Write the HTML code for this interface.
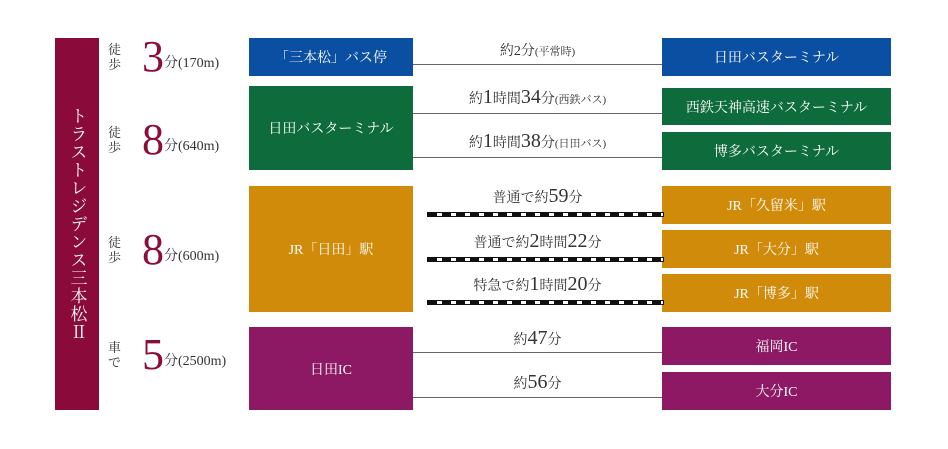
<!DOCTYPE html>
<html><head><meta charset="utf-8"><style>
body{margin:0;width:948px;height:449px;background:#fff;position:relative;overflow:hidden;font-family:"Liberation Serif","Noto Serif CJK SC",serif;}
.b{position:absolute;color:#fff;display:flex;align-items:center;justify-content:center;font-size:14px;}
.l{position:absolute;height:1px;background:#666;left:413px;width:249px;}
.r{position:absolute;left:427px;width:235px;height:3px;border:1px solid #111;background:repeating-linear-gradient(90deg,#111 0 9px,#fff 9px 14px);}
.t{position:absolute;left:413px;width:249px;text-align:center;color:#333;font-size:14px;}
.t b{font-weight:normal;font-size:20px;}
.t s{text-decoration:none;font-size:11px;}
.lab{position:absolute;left:108px;color:#333;display:flex;align-items:center;}
.lab .v{width:14px;font-size:13px;line-height:15px;}
.lab .n{font-size:44px;color:#8b0e3a;margin-left:20px;line-height:44px;}
.lab .u{font-size:14px;margin-top:10px;}
.blue{background:#0b4fa2}.green{background:#0e6b3b}.or{background:#d18b0b}.pu{background:#8d1964}
</style></head><body>
<div class="b" style="left:55px;top:38px;width:44px;height:372px;background:#8a0b3a;writing-mode:vertical-rl;font-size:17px;letter-spacing:1px;">トラストレジデンス三本松Ⅱ</div>

<div class="lab" style="top:35px"><div class="v">徒歩</div><div class="n">3</div><div class="u">分(170m)</div></div>
<div class="lab" style="top:118px"><div class="v">徒歩</div><div class="n">8</div><div class="u">分(640m)</div></div>
<div class="lab" style="top:228px"><div class="v">徒歩</div><div class="n">8</div><div class="u">分(600m)</div></div>
<div class="lab" style="top:333px"><div class="v">車で</div><div class="n">5</div><div class="u">分(2500m)</div></div>

<div class="b blue" style="left:249px;top:38px;width:164px;height:38px">「三本松」バス停</div>
<div class="b green" style="left:249px;top:86px;width:164px;height:84px">日田バスターミナル</div>
<div class="b or" style="left:249px;top:186px;width:164px;height:126px">JR「日田」駅</div>
<div class="b pu" style="left:249px;top:327px;width:164px;height:83px">日田IC</div>

<div class="b blue" style="left:662px;top:38px;width:229px;height:38px">日田バスターミナル</div>
<div class="b green" style="left:662px;top:88px;width:229px;height:37px">西鉄天神高速バスターミナル</div>
<div class="b green" style="left:662px;top:132px;width:229px;height:38px">博多バスターミナル</div>
<div class="b or" style="left:662px;top:186px;width:229px;height:38px">JR「久留米」駅</div>
<div class="b or" style="left:662px;top:230px;width:229px;height:38px">JR「大分」駅</div>
<div class="b or" style="left:662px;top:274px;width:229px;height:38px">JR「博多」駅</div>
<div class="b pu" style="left:662px;top:327px;width:229px;height:38px">福岡IC</div>
<div class="b pu" style="left:662px;top:372px;width:229px;height:38px">大分IC</div>

<div class="l" style="top:64px"></div>
<div class="l" style="top:113px"></div>
<div class="l" style="top:157px"></div>
<div class="r" style="top:212px"></div>
<div class="r" style="top:257px"></div>
<div class="r" style="top:300px"></div>
<div class="l" style="top:352px"></div>
<div class="l" style="top:397px"></div>

<div class="t" style="top:40px">約2分<s>(平常時)</s></div>
<div class="t" style="top:86px">約<b>1</b>時間<b>34</b>分<s>(西鉄バス)</s></div>
<div class="t" style="top:130px">約<b>1</b>時間<b>38</b>分<s>(日田バス)</s></div>
<div class="t" style="top:185px">普通で約<b>59</b>分</div>
<div class="t" style="top:230px">普通で約<b>2</b>時間<b>22</b>分</div>
<div class="t" style="top:273px">特急で約<b>1</b>時間<b>20</b>分</div>
<div class="t" style="top:327px">約<b>47</b>分</div>
<div class="t" style="top:371px">約<b>56</b>分</div>
</body></html>
